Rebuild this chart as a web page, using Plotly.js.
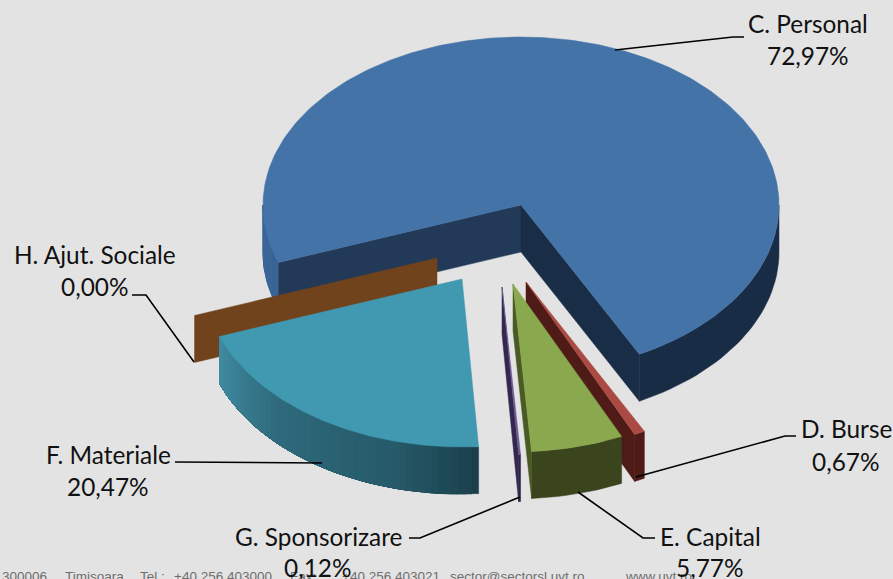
<!DOCTYPE html>
<html><head><meta charset="utf-8">
<script src="https://cdn.plot.ly/plotly-3.0.1.min.js"></script>
<style>html,body{margin:0;padding:0;background:#e3e3e3;overflow:hidden}</style>
</head><body><div id="chart" style="width:893px;height:579px"></div>
<script>
// Data, clockwise from the first slice
const categories = ["C. Personal","D. Burse","E. Capital","G. Sponsorizare","F. Materiale","H. Ajut. Sociale"];
const values = [72.97,0.67,5.77,0.12,20.47,0.00];
const topColors = ["#4473a8","#ab4a43","#8aa84d","#6a5a90","#4099b0","#70431c"];
const sideColors = ["#223a58","#4e1b17","#4a5a25","#33264f","#1c4450","#70431c"];
const endSideColors = ["#1a2d47","#4e1b17","#4a5a25","#33264f","#1c4450","#70431c"];
const outerStops = [
  [[90,"#192c45"],[153,"#192c45"],[250,"#3a6496"],[270,"#3c6699"]],
  [[90,"#4e1b17"],[270,"#4e1b17"]],
  [[90,"#3a441d"],[270,"#3a441d"]],
  [[90,"#2e2547"],[270,"#2e2547"]],
  [[176,"#1a3f4a"],[195,"#265a69"],[225,"#2e6a7c"],[250,"#418ba2"]],
  [[90,"#70431c"],[270,"#70431c"]]
];
// Pie geometry, in the pixel scale of the axes
const firstAngle = 250, radiusX = 258, radiusY = 168, depth = 47;
const apexX = [521,526,513,502,462,437];
const apexY = [205,282,284,287,279,258];
const drawOrder = [0,5,4,1,3,2];
// Labels
const labelX = [808,846,710,318,108,95];
const labelY = [23,428,536,536,454,254];
const percentY = [55,461,567,567,486,286];
const leaderX = [[615,733,744],[636,785,796],[578,643,655],[520,420,409],[322,175],[194,146,132]];
const leaderY = [[50,37,37],[477,436,436],[492,538,538],[497,538,538],[463,462],[362,295,295]];
const footerParts = ["300006,","Timișoara,","Tel.:","+40 256 403000,","Fax:","+40 256 403021,","sector@sectorsl.uvt.ro,","www.uvt.ro"];
const footerX = [0,63,138,172,288,340,448,623];

const traces = [];
function poly(xs,ys,color){
  traces.push({type:"scatter",mode:"lines",x:xs.concat(xs[0]),y:ys.concat(ys[0]),fill:"toself",fillcolor:color,
    line:{color:color,width:0.5},hoverinfo:"skip",showlegend:false});
}
function px(i,a){return apexX[i]+radiusX*Math.sin(a*Math.PI/180);}
function py(i,a){return apexY[i]-radiusY*Math.cos(a*Math.PI/180);}
function hex(c){return [1,3,5].map(k=>parseInt(c.substr(k,2),16));}
function stopColor(i,a){
  const s=outerStops[i];
  if(a<=s[0][0])return "rgb("+hex(s[0][1]).join(",")+")";
  for(let k=1;k<s.length;k++){
    if(a<=s[k][0]){
      const t=(a-s[k-1][0])/(s[k][0]-s[k-1][0]),p=hex(s[k-1][1]),q=hex(s[k][1]);
      return "rgb("+p.map((v,j)=>Math.round(v+(q[j]-v)*t)).join(",")+")";
    }
  }
  return "rgb("+hex(s[s.length-1][1]).join(",")+")";
}
const starts=[];let acc=firstAngle;
values.forEach(v=>{starts.push(acc);acc+=v/100*360;});

function sideFace(i,a,color){
  const x=px(i,a),y=py(i,a);
  poly([apexX[i],x,x,apexX[i]],[apexY[i],y,y+depth,apexY[i]+depth],color);
}
function outerWall(i,s,e){
  // visible part of the rim is the lower half of the ellipse: 90..270 (mod 360)
  for(const off of [0,360]){
    const a0=Math.max(s,90+off),a1=Math.min(e,270+off);
    if(a1<=a0)continue;
    const n=Math.max(1,Math.ceil((a1-a0)/1.5));
    let last=null;
    for(let k=0;k<n;k++){
      const u=a0+(a1-a0)*k/n,c=stopColor(i,u+(a1-a0)/n/2-off);
      if(c===last)continue;
      last=c;
      // each band runs to the end of the arc, so later bands paint over it without seams
      const xs=[],ys=[],m=Math.max(2,Math.ceil((a1-u)/2));
      for(let j=0;j<=m;j++){const a=u+(a1-u)*j/m;xs.push(px(i,a));ys.push(py(i,a));}
      for(let j=m;j>=0;j--){const a=u+(a1-u)*j/m;xs.push(px(i,a));ys.push(py(i,a)+depth);}
      poly(xs,ys,c);
    }
  }
}
function topFace(i,s,e){
  const xs=[apexX[i]],ys=[apexY[i]],n=Math.max(2,Math.ceil((e-s)/1));
  for(let k=0;k<=n;k++){const a=s+(e-s)*k/n;xs.push(px(i,a));ys.push(py(i,a));}
  poly(xs,ys,topColors[i]);
}
drawOrder.forEach(i=>{
  const s=starts[i],e=s+values[i]/100*360;
  const sn=Math.sin(s*Math.PI/180),en=Math.sin(e*Math.PI/180);
  outerWall(i,s,e);
  if(sn<0)sideFace(i,s,sideColors[i]);
  if(en>0)sideFace(i,e,endSideColors[i]);
  if(values[i]>0)topFace(i,s,e);
});
leaderX.forEach((lx,i)=>traces.push({type:"scatter",mode:"lines",x:lx,y:leaderY[i],
  line:{color:"#000",width:1.6},hoverinfo:"skip",showlegend:false}));

const font={family:"Lato, Carlito, sans-serif",size:24.4,color:"#111"};
const annotations=[];
footerParts.forEach((t,i)=>annotations.push({xref:"x",yref:"y",x:footerX[i],y:576,xanchor:"left",yanchor:"middle",showarrow:false,text:t,
  font:{family:"Liberation Sans, sans-serif",size:13.5,color:"#6e6e6e"}}));
categories.forEach((c,i)=>{
  annotations.push({xref:"x",yref:"y",x:labelX[i],y:labelY[i],xanchor:"center",yanchor:"middle",showarrow:false,text:c,font});
  annotations.push({xref:"x",yref:"y",x:labelX[i],y:percentY[i],xanchor:"center",yanchor:"middle",showarrow:false,
    text:values[i].toFixed(2).replace(".",",")+"%",font});
});
Plotly.newPlot("chart",traces,{
  width:893,height:579,margin:{l:0,r:0,t:0,b:0},paper_bgcolor:"#e3e3e3",plot_bgcolor:"#e3e3e3",showlegend:false,
  xaxis:{range:[0,893],visible:false,fixedrange:true},
  yaxis:{range:[579,0],visible:false,fixedrange:true},
  annotations
},{displayModeBar:false,staticPlot:true});
</script></body></html>
